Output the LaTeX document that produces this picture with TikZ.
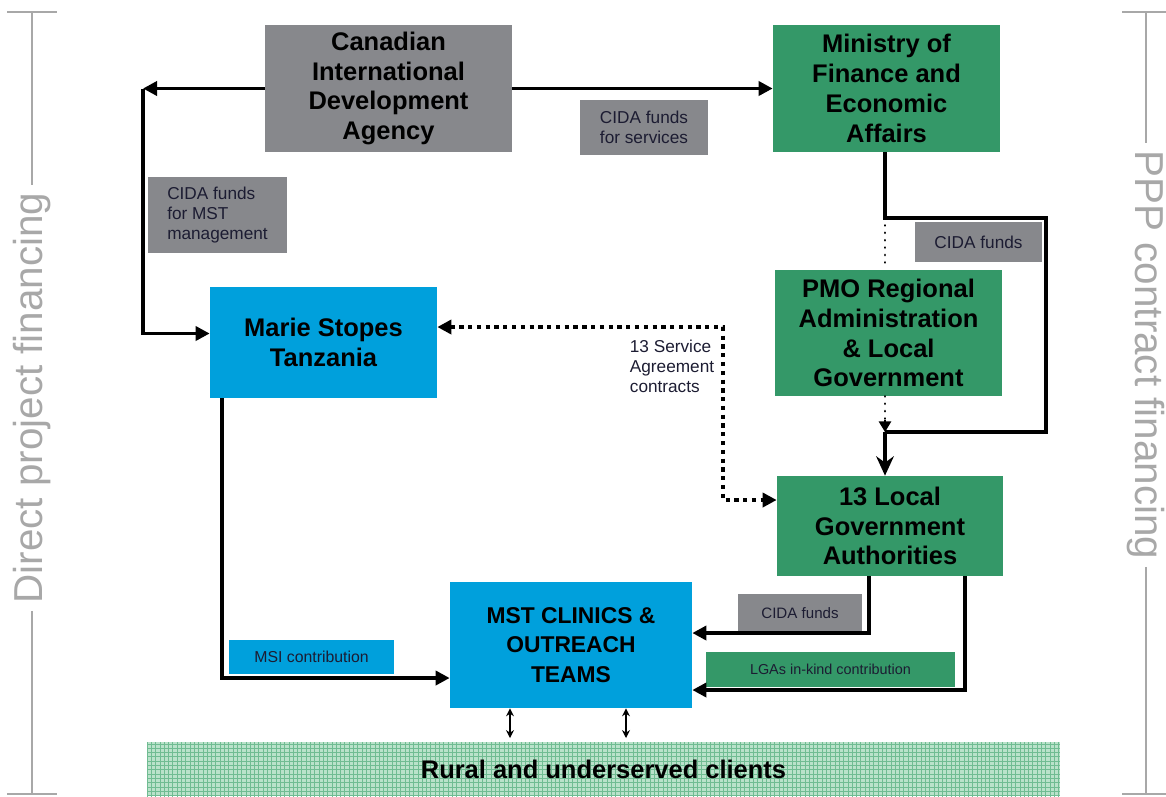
\documentclass[tikz,border=0pt]{standalone}
\usepackage{fontspec}
\setmainfont{Liberation Sans}
\usetikzlibrary{calc}
\usetikzlibrary{positioning}
\usetikzlibrary{arrows.meta}
\definecolor{cidagray}{RGB}{135,136,140}
\definecolor{govgreen}{RGB}{52,152,104}
\definecolor{mstblue}{RGB}{0,160,220}
\definecolor{sidegray}{RGB}{168,168,168}
\definecolor{bandgreen}{RGB}{186,226,202}
\definecolor{bandline}{RGB}{112,188,146}
\definecolor{labeltext}{RGB}{28,28,50}
\newcommand*{\bigfont}{\fontsize{14.5}{17}\selectfont\bfseries}
\newcommand*{\smallfont}{\fontsize{9.8}{11.4}\selectfont}
\newcommand*{\sidefont}{\fontsize{23}{26}\selectfont}

\begin{document}
\begin{tikzpicture}[x=0.02cm,y=-0.02cm]
		\tikzstyle{Box} = [inner sep=0pt, align=center, font=\bigfont]
		\tikzstyle{GrayBox} = [Box, fill=cidagray]
		\tikzstyle{GreenBox} = [Box, fill=govgreen]
		\tikzstyle{BlueBox} = [Box, fill=mstblue]
		\tikzstyle{Label} = [inner sep=0pt, align=left, font=\smallfont, text=labeltext]
		\tikzstyle{Flow} = [line width=2.2pt, line join=miter, -{Triangle[length=8pt,width=8pt]}]
		\tikzstyle{Contract} = [line width=2.4pt, dash pattern=on 2.4pt off 2.6pt,
			{Triangle[length=8pt,width=8pt]}-{Triangle[length=8pt,width=8pt]}]
		\tikzstyle{Dots} = [line width=1.6pt, dash pattern=on 0.01pt off 4.2pt, line cap=round]
		\tikzstyle{Side} = [sidegray, line width=0.8pt]
		\tikzstyle{SideText} = [text=sidegray, font=\sidefont, inner xsep=4pt, inner ysep=0pt]

		\useasboundingbox (0,0) rectangle (1166,796);

		%Draw the main boxes
		\node[GrayBox, minimum width=4.94cm, minimum height=2.54cm] (cida) at (388.5,88.5)
			{Canadian\\International\\Development\\Agency};
		\node[GreenBox, minimum width=4.54cm, minimum height=2.54cm] (mofea) at (886.5,88.5)
			{Ministry of\\Finance and\\Economic\\Affairs};
		\node[BlueBox, minimum width=4.54cm, minimum height=2.22cm] (mst) at (323.5,342.5)
			{Marie Stopes\\Tanzania};
		\node[GreenBox, minimum width=4.54cm, minimum height=2.52cm] (pmo) at (888.5,333)
			{PMO Regional\\Administration\\\& Local\\Government};
		\node[GreenBox, minimum width=4.52cm, minimum height=2.0cm] (lga) at (890,526)
			{13 Local\\Government\\Authorities};
		\node[BlueBox, minimum width=4.84cm, minimum height=2.52cm, font=\fontsize{13}{17}\selectfont\bfseries] (clinics) at (571,645)
			{MST CLINICS \&\\OUTREACH\\TEAMS};

		%Clients band with its grid
		\node[Box, fill=bandgreen, minimum width=18.26cm, minimum height=1.08cm,
			path picture={
				\foreach \i in {0,4.3,...,916}
					\draw[bandline, line width=0.55pt] ($(path picture bounding box.north west)+(\i,0)$) -- ++(0,60);
				\foreach \j in {2,6.3,...,58}
					\draw[bandline, line width=0.55pt] ($(path picture bounding box.north west)+(0,\j)$) -- ++(920,0);
			}] (band) at (603.5,769) {};
		\node[font=\bigfont] (clients) at (band) {Rural and underserved clients};

		%Labels on the connectors
		\node[Label, fill=cidagray, minimum width=2.56cm, minimum height=1.1cm] (lservices) at (644,127.5)
			{CIDA funds\\for services};
		\node[Label, fill=cidagray, minimum width=2.78cm, minimum height=1.52cm] (lmgmt) at (217.5,215)
			{CIDA funds\\for MST\\management};
		\node[Label, fill=cidagray, minimum width=2.54cm, minimum height=0.8cm] (lfunds) at (978.5,242)
			{CIDA funds};
		\node[Label, fill=cidagray, minimum width=2.48cm, minimum height=0.76cm, font=\fontsize{8.6}{10}\selectfont] (lclinic) at (800,613)
			{CIDA funds};
		\node[Label, fill=govgreen, minimum width=4.98cm, minimum height=0.7cm, font=\fontsize{8.2}{10}\selectfont] (lkind) at (830.5,669.5)
			{LGAs in-kind contribution};
		\node[Label, fill=mstblue, minimum width=3.3cm, minimum height=0.68cm, font=\fontsize{9}{10}\selectfont] (lmsi) at (311.5,657)
			{MSI contribution};
		\node[Label] (lsla) at (672,366) {13 Service\\Agreement\\contracts};

		%Corners of the connectors
		\coordinate (cl) at (143,88.5);
		\coordinate (sla1) at (723,327);
		\coordinate (sla2) at (723,500);
		\coordinate (m1) at (885,218);
		\coordinate (m2) at (1046,218);
		\coordinate (m3) at (1046,432);
		\coordinate (m4) at (885,432);
		\coordinate (l1) at (869,633);
		\coordinate (l2) at (965,690);
		\coordinate (s1) at (222,678);
		\coordinate (b1) at (510,738);
		\coordinate (b2) at (626,738);

		%Draw connectors
		\draw[Flow] (cida.east) -- (mofea.west);
		\draw[Flow] (cida.west) -- (cl);
		\draw[Flow] (cl) |- ($(mst.west)+(0,-9)$);
		\draw[Contract] (mst.east |- sla1) -- (sla1) -- (sla2) -- (lga.west |- sla2);

		\draw[line width=2.2pt, line join=miter] (mofea.south -| m1) -- (m1) -- (m2) -- (m3) -- (m4);
		\draw[line width=2.4pt, -{Stealth[length=11pt,width=10pt]}] (m4) -- (m4 |- lga.north);
		\draw[Dots] (m1) -- (pmo.north -| m1);
		\draw[Dots] (pmo.south -| m4) -- ($(m4)+(0,-12)$);
		\draw[line width=0.9pt, -{Triangle[length=6pt,width=7pt]}] ($(m4)+(0,-12)$) -- (m4);

		\draw[Flow] (lga.south -| l1) -- (l1) -- (clinics.east |- l1);
		\draw[Flow] (lga.south -| l2) -- (l2) -- (clinics.east |- l2);
		\draw[Flow] (mst.south -| s1) -- (s1) -- (clinics.west |- s1);

		\draw[line width=0.9pt, {Stealth[length=4.5pt,width=4.5pt]}-{Stealth[length=4.5pt,width=4.5pt]}] (clinics.south -| b1) -- (b1);
		\draw[line width=0.9pt, {Stealth[length=4.5pt,width=4.5pt]}-{Stealth[length=4.5pt,width=4.5pt]}] (clinics.south -| b2) -- (b2);

		%Side captions
		\coordinate (ltop) at (32,12);
		\coordinate (lbot) at (32,794);
		\coordinate (rtop) at (1146,12);
		\coordinate (rbot) at (1146,794);
		\node[SideText, rotate=90] (dpf) at (32,398) {Direct project financing};
		\node[SideText, rotate=-90] (ppp) at (1146,355) {PPP contract financing};
		\draw[Side] (ltop) -- (dpf.east);
		\draw[Side] (dpf.west) -- (lbot);
		\draw[Side] (rtop) -- (ppp.west);
		\draw[Side] (ppp.east) -- (rbot);
		\draw[Side] ($(ltop)+(-25,0)$) -- ($(ltop)+(25,0)$);
		\draw[Side] ($(lbot)+(-25,0)$) -- ($(lbot)+(25,0)$);
		\draw[Side] ($(rtop)+(-24,0)$) -- ($(rtop)+(24,0)$);
		\draw[Side] ($(rbot)+(-24,0)$) -- ($(rbot)+(24,0)$);
	\end{tikzpicture}
\end{document}
